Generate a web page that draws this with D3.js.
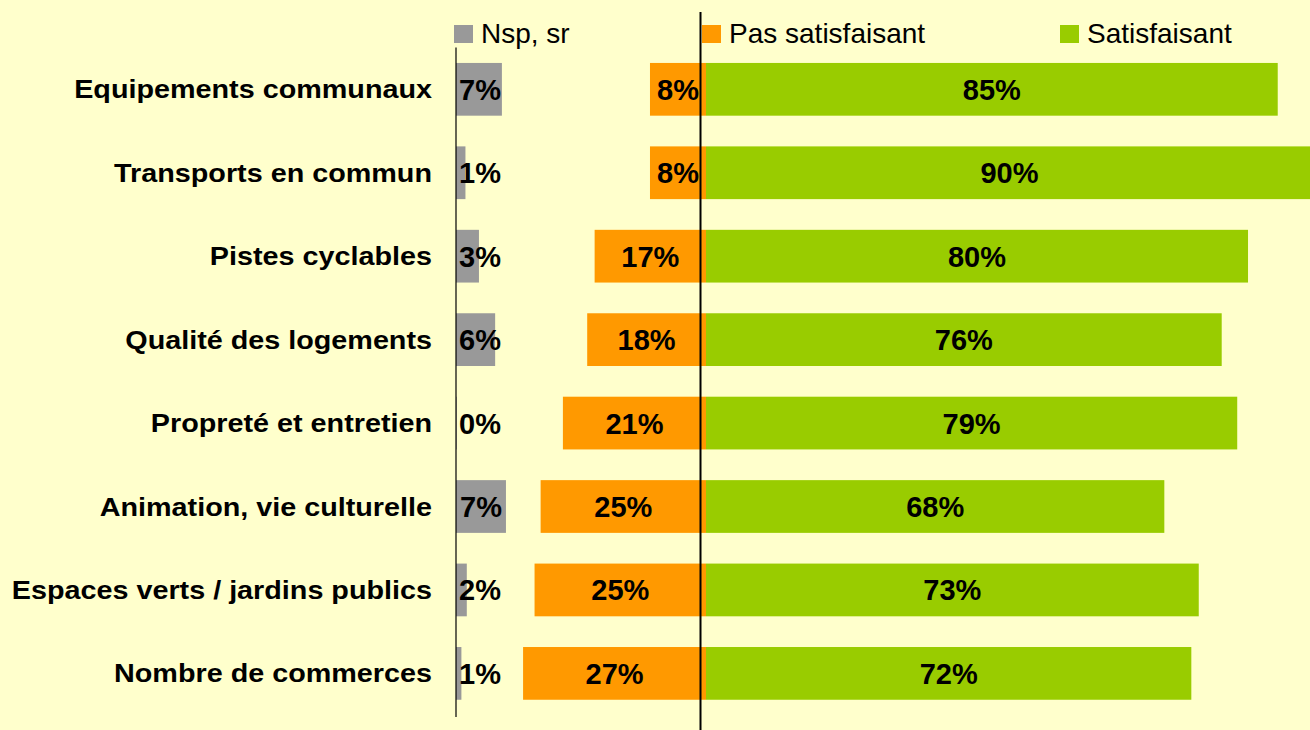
<!DOCTYPE html>
<html>
<head>
<meta charset="utf-8">
<script src="https://cdn.jsdelivr.net/npm/d3@7"></script>
<style>
  html, body { margin: 0; padding: 0; background: #ffffcc; }
  svg { display: block; font-family: "Liberation Sans", Arial, sans-serif; }
</style>
</head>
<body>
<svg width="1310" height="730"></svg>
<script>
// survey items, top to bottom
const categories = [
  'Equipements communaux',
  'Transports en commun',
  'Pistes cyclables',
  'Qualité des logements',
  'Propreté et entretien',
  'Animation, vie culturelle',
  'Espaces verts / jardins publics',
  'Nombre de commerces'
];

// shares in %
const nspValues = [6.8, 1.4, 3.4, 5.8, 0.1, 7.4, 1.6, 0.8];
const pasValues = [8.3, 8.3, 16.5, 17.6, 21.2, 24.5, 25.4, 27.1];
const satValues = [84.7, 89.9, 80.3, 76.4, 78.7, 67.9, 73.0, 71.9];

const seriesNames = ['Nsp, sr', 'Pas satisfaisant', 'Satisfaisant'];
const seriesColors = ['#999999', '#ff9900', '#99cc00'];

const svg = d3.select('svg');

const nspOrigin = 456;   // left axis
const splitOrigin = 706; // where "pas satisfaisant" meets "satisfaisant"
const splitLine = 700.5;

const x = d3.scaleLinear().domain([0, 100]).range([0, 675]);
const y = d3.scaleBand()
  .domain(categories)
  .range([47.6, 715.1])
  .paddingInner(0.368)
  .paddingOuter(0.184);

const rows = categories.map((name, i) => ({
  name,
  nsp: nspValues[i],
  pas: pasValues[i],
  sat: satValues[i]
}));

const pct = v => `${Math.round(v)}%`;
const mid = d => y(d.name) + y.bandwidth() / 2;

// category labels (the original text is drawn a little wide)
svg.append('g')
  .selectAll('text')
  .data(rows)
  .enter().append('text')
    .attr('transform', d => `translate(432,${mid(d)}) scale(1.15,1)`)
    .attr('dy', '0.36em')
    .attr('text-anchor', 'end')
    .attr('font-size', 25)
    .attr('font-weight', 'bold')
    .text(d => d.name);

const bars = svg.append('g');

bars.selectAll('.nsp')
  .data(rows)
  .enter().append('rect')
    .attr('class', 'nsp')
    .attr('x', nspOrigin)
    .attr('y', d => y(d.name))
    .attr('width', d => x(d.nsp))
    .attr('height', y.bandwidth())
    .attr('fill', seriesColors[0]);

bars.selectAll('.pas')
  .data(rows)
  .enter().append('rect')
    .attr('class', 'pas')
    .attr('x', d => splitOrigin - x(d.pas))
    .attr('y', d => y(d.name))
    .attr('width', d => x(d.pas))
    .attr('height', y.bandwidth())
    .attr('fill', seriesColors[1]);

bars.selectAll('.sat')
  .data(rows)
  .enter().append('rect')
    .attr('class', 'sat')
    .attr('x', splitOrigin)
    .attr('y', d => y(d.name))
    .attr('width', d => x(d.sat))
    .attr('height', y.bandwidth())
    .attr('fill', seriesColors[2]);

// axis lines
svg.append('line')
  .attr('x1', nspOrigin).attr('x2', nspOrigin)
  .attr('y1', y.range()[0]).attr('y2', y.range()[1] + 2)
  .attr('stroke', '#000').attr('stroke-width', 1.2);

svg.append('line')
  .attr('x1', splitLine).attr('x2', splitLine)
  .attr('y1', 12).attr('y2', 730)
  .attr('stroke', '#000').attr('stroke-width', 2);

// value labels
const labels = svg.append('g')
  .attr('font-size', 29)
  .attr('font-weight', 'bold')
  .attr('text-anchor', 'middle');

labels.selectAll('.nsp-label')
  .data(rows)
  .enter().append('text')
    .attr('x', d => nspOrigin + Math.max(x(d.nsp) / 2, 24))
    .attr('y', mid)
    .attr('dy', '0.36em')
    .text(d => pct(d.nsp));

labels.selectAll('.pas-label')
  .data(rows)
  .enter().append('text')
    .attr('x', d => splitOrigin - x(d.pas) / 2)
    .attr('y', mid)
    .attr('dy', '0.36em')
    .text(d => pct(d.pas));

labels.selectAll('.sat-label')
  .data(rows)
  .enter().append('text')
    .attr('x', d => splitOrigin + x(d.sat) / 2)
    .attr('y', mid)
    .attr('dy', '0.36em')
    .text(d => pct(d.sat));

// legend
const legendX = [454, 702, 1060];
const legend = svg.append('g')
  .selectAll('g')
  .data(seriesNames)
  .enter().append('g')
    .attr('transform', (d, i) => `translate(${legendX[i]},25)`);

legend.append('rect')
  .attr('width', 19)
  .attr('height', 18)
  .attr('fill', (d, i) => seriesColors[i]);

legend.append('text')
  .attr('x', 27)
  .attr('y', 17.5)
  .attr('font-size', 28)
  .text(d => d);
</script>
</body>
</html>
